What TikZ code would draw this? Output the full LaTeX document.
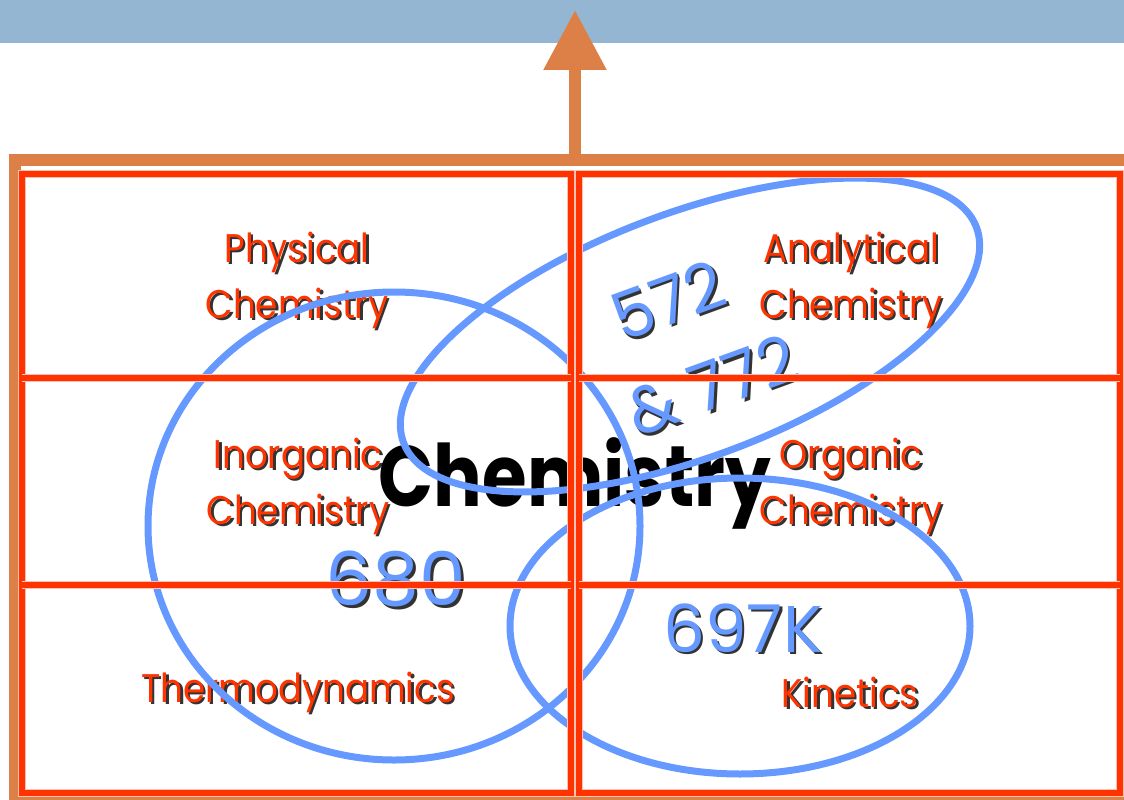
\documentclass[tikz,border=0pt]{standalone}
\usepackage{fontspec}
\setmainfont{Poppins}
\newfontfamily\labelfont[FakeStretch=0.89]{Poppins}
\newfontfamily\chemfont[FakeStretch=0.84]{Poppins}
\usetikzlibrary{calc,arrows.meta}
\definecolor{barblue}{HTML}{94B6D2}
\definecolor{orng}{HTML}{DD8047}
\definecolor{gridred}{HTML}{FF3300}
\definecolor{ellblue}{HTML}{6699FF}
\newcommand\shtext[4]{%
  \node[#2, text=black!80] (#1-shadow) at ($#3+(2.5,2.5)$) {#4};
  \node[#2] (#1) at #3 {#4};}
\begin{document}
\begin{tikzpicture}[x=1pt,y=-1pt,
  lbl/.style={text=gridred, align=center, font=\labelfont\fontsize{40}{56}\selectfont, inner sep=0pt},
  num/.style={text=ellblue, font=\fontsize{66}{66}\selectfont, inner sep=0pt},
  ell/.style={draw=ellblue, line width=7pt},
  gridline/.style={draw=gridred, line width=6pt, preaction={draw=gridred!30, line width=8pt}}]
\useasboundingbox (0,0) rectangle (1124,800);
\clip (0,0) rectangle (1124,800);
% top bar
\node[fill=barblue, minimum width=1124pt, minimum height=43pt, inner sep=0pt, anchor=north west] (bar) at (0,0) {};
% orange frame
\draw[orng, line width=12pt] (15,160) rectangle (1136,802);
\coordinate (frametop) at (575,160);
\coordinate (tip) at (575,10);
\draw[orng, line width=12pt, -{Triangle[width=60pt,length=60pt]}] (frametop) -- (tip);
% labels
\shtext{phys}{lbl}{(297,280)}{Physical\\Chemistry}
\shtext{anal}{lbl}{(851,280)}{Analytical\\Chemistry}
\shtext{inorg}{lbl}{(298,486)}{Inorganic\\Chemistry}
\shtext{org}{lbl}{(851,486)}{Organic\\Chemistry}
\shtext{thermo}{lbl}{(298,692)}{Thermodynamics}
\shtext{kin}{lbl}{(850,692)}{Kinetics}
% central word
\node[text=black, font=\chemfont\fontsize{86}{86}\selectfont\bfseries, inner sep=0pt] (chem) at (575,483) {Chemistry};
% numbers
\shtext{n572}{num, rotate=20}{(668,300)}{572}
\shtext{n772}{num, rotate=20}{(712,385)}{\& 772}
\shtext{n680}{num, font=\fontsize{74}{74}\selectfont}{(396,579)}{680}
\shtext{n697}{num}{(743,628)}{697K}
% ellipses
\draw[ell] (394,526) ellipse [x radius=246pt, y radius=234pt];
\draw[ell, rotate around={20.6:(690,335)}] (690,335) ellipse [x radius=306pt, y radius=122pt];
\draw[ell] (740,626) ellipse [x radius=230pt, y radius=148pt];
% grid
\draw[gridline] (22,174) rectangle (571,793);
\draw[gridline] (579,174) rectangle (1120,793);
\draw[gridline] (22,378) -- (571,378);
\draw[gridline] (22,585) -- (571,585);
\draw[gridline] (579,378) -- (1120,378);
\draw[gridline] (579,585) -- (1120,585);
\end{tikzpicture}
\end{document}
